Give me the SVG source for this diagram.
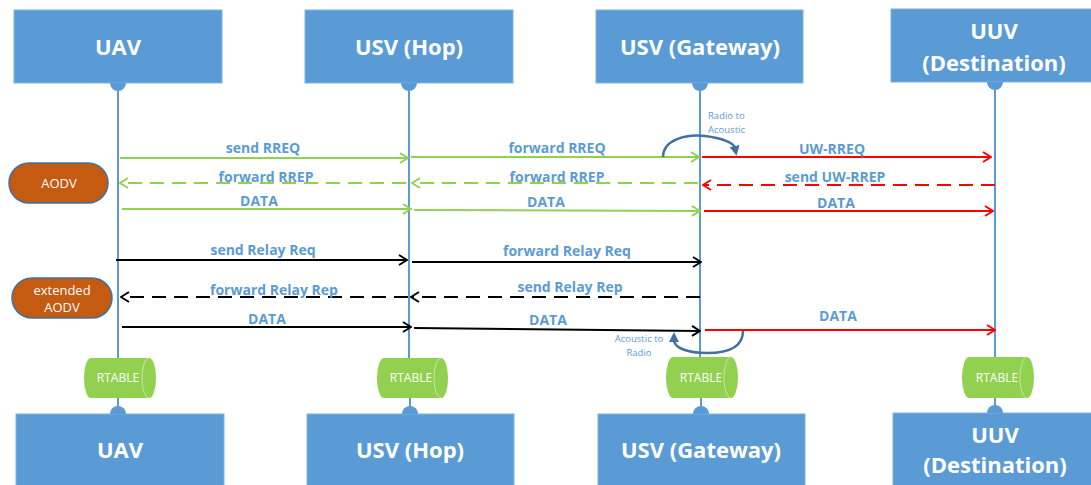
<svg xmlns="http://www.w3.org/2000/svg" width="1091" height="485" viewBox="0 0 1091 485">
  <style>
    .box { fill: #5B9BD5; stroke: #7FB2E0; stroke-width: 1; }
    .bump { fill: #5B9BD5; }
    .title { font-family: "Open Sans", "Liberation Sans", sans-serif; font-weight: 700; font-size: 22px; fill: #FFFFFF; text-anchor: middle; }
    .life { stroke: #5B9BD5; stroke-width: 2; fill: none; }
    .lbl { font-family: "Open Sans", "Liberation Sans", sans-serif; font-weight: 700; font-size: 14px; fill: #5B9BD5; text-anchor: middle; }
    .note { font-family: "Open Sans", "Liberation Sans", sans-serif; font-size: 9.5px; fill: #5B9BD5; }
    .pill { fill: #C55A11; stroke: #41719C; stroke-width: 1.5; }
    .pilltxt { font-family: "Open Sans", "Liberation Sans", sans-serif; font-size: 13px; fill: #FFFFFF; text-anchor: middle; }
    .rt { fill: #92D050; }
    .rtin { fill: none; stroke: #C5E6A6; stroke-width: 1; }
    .rttxt { font-family: "Open Sans", "Liberation Sans", sans-serif; font-size: 12px; fill: #FFFFFF; text-anchor: middle; }
    .g { stroke: #92D050; stroke-width: 2; fill: none; marker-end: url(#ag); }
    .r { stroke: #FF0000; stroke-width: 2; fill: none; marker-end: url(#ar); }
    .k { stroke: #000000; stroke-width: 2; fill: none; marker-end: url(#ak); }
    .dash { stroke-dasharray: 14 8; }
    .turn { stroke: #41719C; stroke-width: 2.5; fill: none; marker-end: url(#at); }
  </style>
  <defs>
    <marker id="ag" viewBox="0 0 10 12" refX="9" refY="6" markerWidth="10" markerHeight="12" markerUnits="userSpaceOnUse" orient="auto">
      <path d="M1,1 L9,6 L1,11" fill="none" stroke="#92D050" stroke-width="2"/>
    </marker>
    <marker id="ar" viewBox="0 0 10 12" refX="9" refY="6" markerWidth="10" markerHeight="12" markerUnits="userSpaceOnUse" orient="auto">
      <path d="M1,1 L9,6 L1,11" fill="none" stroke="#FF0000" stroke-width="2"/>
    </marker>
    <marker id="ak" viewBox="0 0 10 12" refX="9" refY="6" markerWidth="10" markerHeight="12" markerUnits="userSpaceOnUse" orient="auto">
      <path d="M1,1 L9,6 L1,11" fill="none" stroke="#000000" stroke-width="2"/>
    </marker>
    <marker id="at" viewBox="0 0 10 10" refX="2" refY="5" markerWidth="10" markerHeight="10" markerUnits="userSpaceOnUse" orient="auto">
      <path d="M0,0 L10,5 L0,10 Z" fill="#41719C"/>
    </marker>
  </defs>

  <!-- lifelines -->
  <g id="lifelines">
    <path class="life" d="M118,83 V358 M118,398 V414"/>
    <path class="life" d="M409,83 V358 M410,398 V414"/>
    <path class="life" d="M700,83 V358 M701,398 V414"/>
    <path class="life" d="M995,83 V358 M995,398 V414"/>
  </g>

  <!-- top participants -->
  <g id="uav-top">
    <rect class="box" x="14" y="10" width="208" height="73"/>
    <path class="bump" d="M110,83 A8,8 0 0 0 126,83 Z"/>
    <text class="title" x="118" y="55">UAV</text>
  </g>
  <g id="hop-top">
    <rect class="box" x="305" y="10" width="208" height="73"/>
    <path class="bump" d="M401,83 A8,8 0 0 0 417,83 Z"/>
    <text class="title" x="409" y="55">USV (Hop)</text>
  </g>
  <g id="gateway-top">
    <rect class="box" x="596" y="10" width="207" height="73"/>
    <path class="bump" d="M692,83 A8,8 0 0 0 708,83 Z"/>
    <text class="title" x="700" y="55">USV (Gateway)</text>
  </g>
  <g id="uuv-top">
    <rect class="box" x="891" y="9" width="205" height="73"/>
    <path class="bump" d="M987,82 A8,8 0 0 0 1003,82 Z"/>
    <text class="title" x="994" y="39">UUV</text>
    <text class="title" x="994" y="71">(Destination)</text>
  </g>

  <!-- protocol phase labels -->
  <g id="aodv">
    <rect class="pill" x="9" y="163" width="99" height="40" rx="20"/>
    <text class="pilltxt" x="59" y="188">AODV</text>
  </g>
  <g id="extended-aodv">
    <rect class="pill" x="12" y="278" width="100" height="40" rx="20"/>
    <text class="pilltxt" x="62" y="295">extended</text>
    <text class="pilltxt" x="62" y="312">AODV</text>
  </g>

  <!-- routing tables -->
  <g id="rtable-uav">
    <path class="rt" d="M91,358 H149 A7,20 0 0 1 149,398 H91 A7,20 0 0 1 91,358 Z"/>
    <path class="rtin" d="M149,358 A7,20 0 0 0 149,398"/>
    <text class="rttxt" x="118" y="382">RTABLE</text>
  </g>
  <g id="rtable-hop">
    <path class="rt" d="M384,358 H441 A7,20 0 0 1 441,398 H384 A7,20 0 0 1 384,358 Z"/>
    <path class="rtin" d="M441,358 A7,20 0 0 0 441,398"/>
    <text class="rttxt" x="411" y="382">RTABLE</text>
  </g>
  <g id="rtable-gateway">
    <path class="rt" d="M673,357 H731 A7,20.5 0 0 1 731,398 H673 A7,20.5 0 0 1 673,357 Z"/>
    <path class="rtin" d="M731,357 A7,20.5 0 0 0 731,398"/>
    <text class="rttxt" x="701" y="382">RTABLE</text>
  </g>
  <g id="rtable-uuv">
    <path class="rt" d="M969,357 H1027 A7,20.5 0 0 1 1027,398 H969 A7,20.5 0 0 1 969,357 Z"/>
    <path class="rtin" d="M1027,357 A7,20.5 0 0 0 1027,398"/>
    <text class="rttxt" x="997" y="382">RTABLE</text>
  </g>

  <!-- bottom participants -->
  <g id="uav-bottom">
    <rect class="box" x="16" y="414" width="208" height="80"/>
    <path class="bump" d="M110,414 A8,8 0 0 1 126,414 Z"/>
    <text class="title" x="120" y="458">UAV</text>
  </g>
  <g id="hop-bottom">
    <rect class="box" x="307" y="414" width="207" height="80"/>
    <path class="bump" d="M402,414 A8,8 0 0 1 418,414 Z"/>
    <text class="title" x="410" y="458">USV (Hop)</text>
  </g>
  <g id="gateway-bottom">
    <rect class="box" x="598" y="414" width="207" height="80"/>
    <path class="bump" d="M693,414 A8,8 0 0 1 709,414 Z"/>
    <text class="title" x="701" y="458">USV (Gateway)</text>
  </g>
  <g id="uuv-bottom">
    <rect class="box" x="893" y="413" width="205" height="80"/>
    <path class="bump" d="M987,413 A8,8 0 0 1 1003,413 Z"/>
    <text class="title" x="995" y="443">UUV</text>
    <text class="title" x="995" y="473">(Destination)</text>
  </g>

  <!-- messages -->
  <g id="connectors">
    <!-- AODV route discovery -->
    <line class="g" x1="120" y1="158" x2="408" y2="158"/>
    <line class="g" x1="411" y1="157" x2="699" y2="157"/>
    <line class="r" x1="702" y1="157" x2="991" y2="157"/>
    <line class="g dash" x1="406" y1="183" x2="120" y2="183"/>
    <line class="g dash" x1="698" y1="183" x2="412" y2="183"/>
    <line class="r dash" x1="995" y1="185" x2="703" y2="185"/>
    <line class="g" x1="122" y1="209" x2="411" y2="209"/>
    <line class="g" x1="414" y1="210" x2="700" y2="211"/>
    <line class="r" x1="704" y1="211" x2="993" y2="211"/>

    <!-- extended AODV relay discovery -->
    <line class="k" x1="116" y1="260" x2="407" y2="260"/>
    <line class="k" x1="412" y1="262" x2="701" y2="262"/>
    <line class="k dash" x1="700" y1="297" x2="411" y2="297"/>
    <line class="k dash" x1="408" y1="297" x2="121" y2="297"/>
    <line class="k" x1="122" y1="327" x2="411" y2="327"/>
    <line class="k" x1="414" y1="328" x2="700" y2="331"/>
    <line class="r" x1="705" y1="330" x2="995" y2="330"/>

    <!-- medium conversion at the gateway -->
    <path class="turn" d="M663,157 C663,140 685,134 705,136 C722,138 734,143 735,148"/>
    <path class="turn" d="M743,331 C743,348 727,353 707,353 C688,353 674,348 674,340"/>
  </g>

  <!-- message labels -->
  <g id="labels">
    <text class="lbl" x="263" y="153">send RREQ</text>
    <text class="lbl" x="557" y="153">forward RREQ</text>
    <text class="lbl" x="832" y="154">UW-RREQ</text>
    <text class="lbl" x="266" y="182">forward RREP</text>
    <text class="lbl" x="557" y="182">forward RREP</text>
    <text class="lbl" x="835" y="182">send UW-RREP</text>
    <text class="lbl" x="259" y="206">DATA</text>
    <text class="lbl" x="546" y="207">DATA</text>
    <text class="lbl" x="836" y="208">DATA</text>
    <text class="lbl" x="263" y="255">send Relay Req</text>
    <text class="lbl" x="567" y="256">forward Relay Req</text>
    <text class="lbl" x="274" y="295">forward Relay Rep</text>
    <text class="lbl" x="570" y="292">send Relay Rep</text>
    <text class="lbl" x="267" y="324">DATA</text>
    <text class="lbl" x="548" y="325">DATA</text>
    <text class="lbl" x="838" y="321">DATA</text>
    <text class="note" x="708" y="119">Radio to</text>
    <text class="note" x="708" y="133">Acoustic</text>
    <text class="note" x="639" y="342" text-anchor="middle">Acoustic to</text>
    <text class="note" x="639" y="356" text-anchor="middle">Radio</text>
  </g>
</svg>
